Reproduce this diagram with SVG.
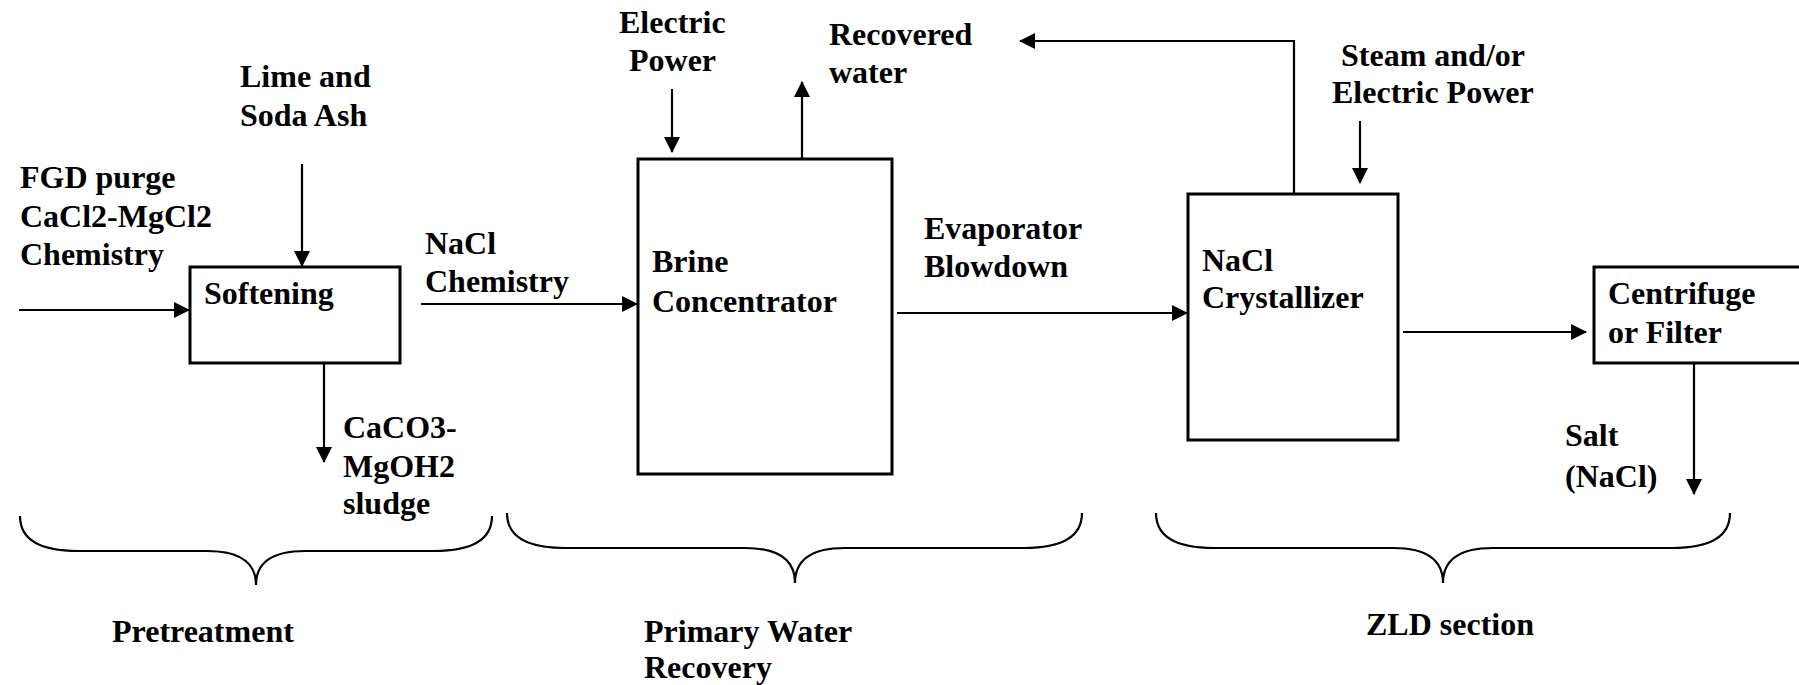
<svg xmlns="http://www.w3.org/2000/svg" width="1799" height="685" viewBox="0 0 1799 685">
<defs>
<style>
text{font-family:"Liberation Serif","Times New Roman",serif;font-weight:bold;font-size:32px;fill:#000}
.box{fill:#fff;stroke:#000;stroke-width:3}
.con{fill:none;stroke:#000;stroke-width:2.2}
.brace{fill:none;stroke:#000;stroke-width:2.2}
</style>
<marker id="ah" markerUnits="userSpaceOnUse" markerWidth="16" markerHeight="16" viewBox="0 0 16 16" refX="15" refY="8" orient="auto">
<path d="M0,0 L16,8 L0,16 z" fill="#000"/>
</marker>
</defs>
<rect width="1799" height="685" fill="#fff"/>

<g id="connectors">
<path class="con" d="M19,310 H189" marker-end="url(#ah)"/>
<path class="con" d="M302,164 V266" marker-end="url(#ah)"/>
<path class="con" d="M421,304 H637" marker-end="url(#ah)"/>
<path class="con" d="M324,363 V462" marker-end="url(#ah)"/>
<path class="con" d="M672,89 V152" marker-end="url(#ah)"/>
<path class="con" d="M802,159 V82" marker-end="url(#ah)"/>
<path class="con" d="M897,313 H1187" marker-end="url(#ah)"/>
<path class="con" d="M1294,194 V41 H1020" marker-end="url(#ah)"/>
<path class="con" d="M1360,121 V183" marker-end="url(#ah)"/>
<path class="con" d="M1403,332 H1586" marker-end="url(#ah)"/>
<path class="con" d="M1694,363 V494" marker-end="url(#ah)"/>
</g>

<g id="softening">
<rect class="box" x="190" y="267" width="210" height="96"/>
<text x="204" y="304">Softening</text>
</g>
<g id="brine-concentrator">
<rect class="box" x="638" y="159" width="254" height="315"/>
<text x="652" y="272">Brine</text>
<text x="652" y="312">Concentrator</text>
</g>
<g id="nacl-crystallizer">
<rect class="box" x="1188" y="194" width="210" height="246"/>
<text x="1202" y="271">NaCl</text>
<text x="1202" y="308">Crystallizer</text>
</g>
<g id="centrifuge">
<rect class="box" x="1594" y="267" width="220" height="96"/>
<text x="1608" y="304">Centrifuge</text>
<text x="1608" y="343">or Filter</text>
</g>

<g id="labels">
<text x="240" y="87">Lime and</text>
<text x="240" y="126">Soda Ash</text>
<text x="20" y="188">FGD purge</text>
<text x="20" y="227">CaCl2-MgCl2</text>
<text x="20" y="265">Chemistry</text>
<text x="425" y="254">NaCl</text>
<text x="425" y="292">Chemistry</text>
<text x="619" y="33">Electric</text>
<text x="629" y="71">Power</text>
<text x="829" y="45">Recovered</text>
<text x="829" y="83">water</text>
<text x="924" y="239">Evaporator</text>
<text x="924" y="277">Blowdown</text>
<text x="1341" y="66">Steam and/or</text>
<text x="1332" y="103">Electric Power</text>
<text x="343" y="438">CaCO3-</text>
<text x="343" y="477">MgOH2</text>
<text x="343" y="514">sludge</text>
<text x="1565" y="446">Salt</text>
<text x="1565" y="487">(NaCl)</text>
</g>

<g id="pretreatment">
<path class="brace" d="M20,516 Q20,551 78,551 H207 Q256,551 256,585 Q256,551 305,551 H434 Q492,551 492,516"/>
<text x="112" y="642">Pretreatment</text>
</g>
<g id="primary-water-recovery">
<path class="brace" d="M507,513 Q507,548 565,548 H745 Q795,548 795,583 Q795,548 845,548 H1024 Q1082,548 1082,513"/>
<text x="644" y="642">Primary Water</text>
<text x="644" y="678">Recovery</text>
</g>
<g id="zld-section">
<path class="brace" d="M1156,513 Q1156,548 1214,548 H1393 Q1443,548 1443,583 Q1443,548 1493,548 H1672 Q1730,548 1730,513"/>
<text x="1366" y="635">ZLD section</text>
</g>
</svg>
